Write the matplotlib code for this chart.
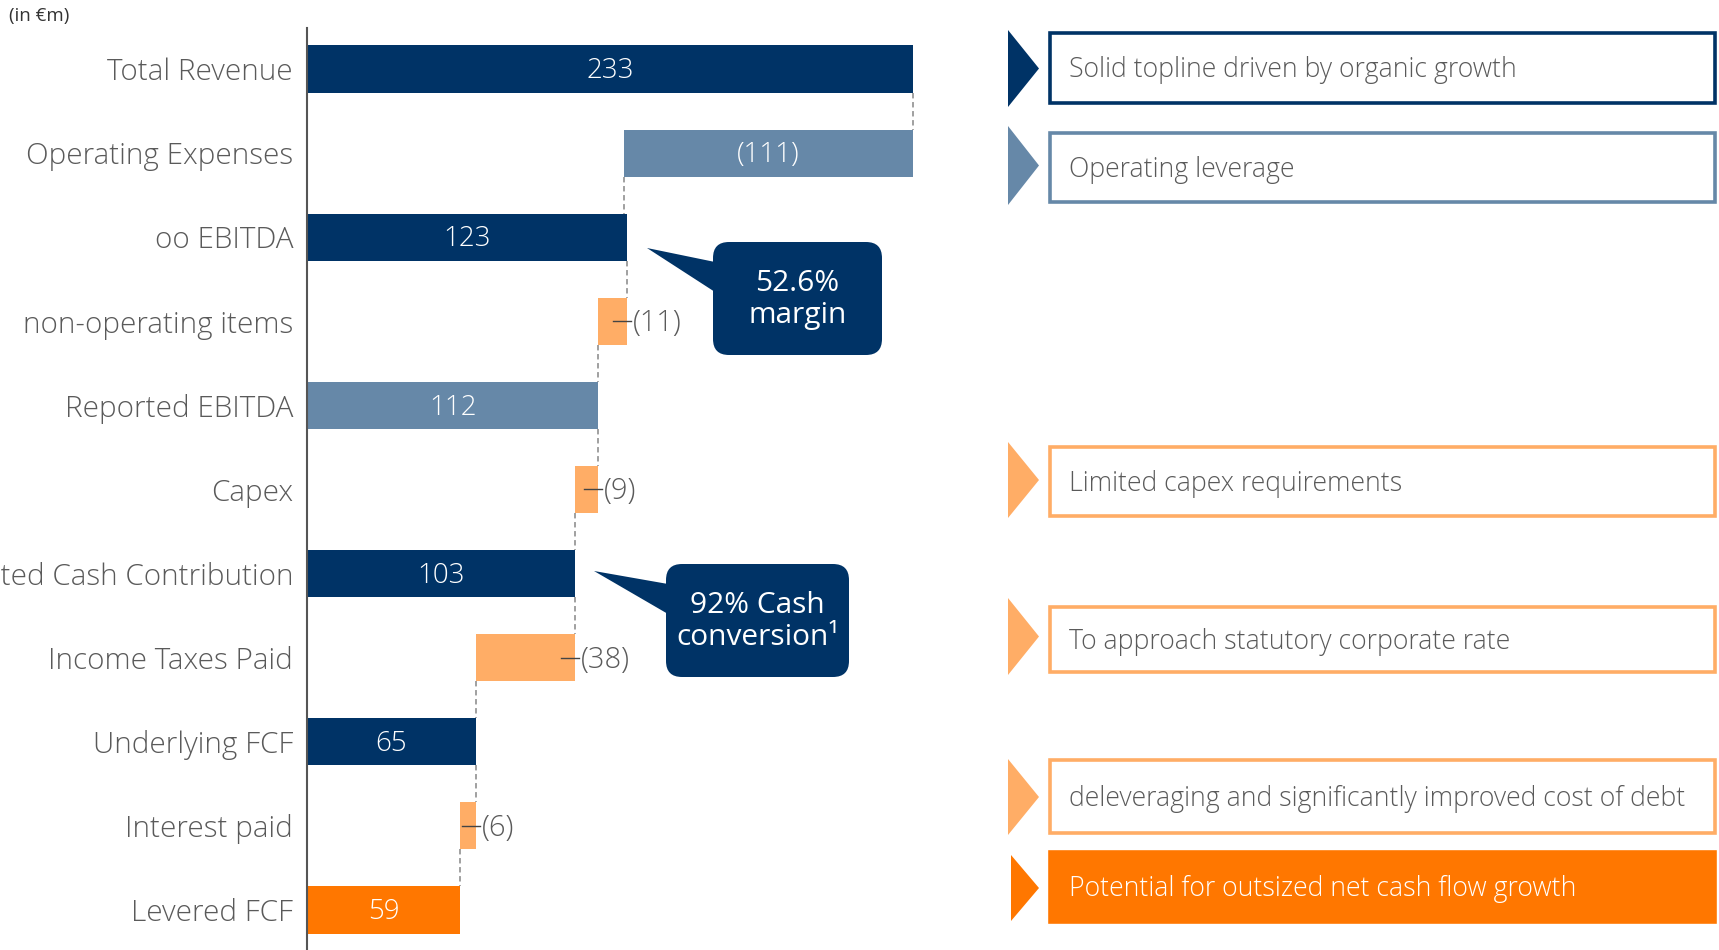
import numpy as np
import matplotlib.pyplot as plt
from matplotlib.patches import FancyBboxPatch, Polygon, Rectangle

plt.rcParams['font.family'] = ['Open Sans', 'DejaVu Sans']

# datos de la cascada
categories = ["Total Revenue", "Operating Expenses", "oo EBITDA", "non-operating items",
              "Reported EBITDA", "Capex", "Reported Cash Contribution", "Income Taxes Paid",
              "Underlying FCF", "Interest paid", "Levered FCF"]
values = [233, -111, 123, -11, 112, -9, 103, -38, 65, -6, 59]
is_total = [True, False, True, False, True, False, True, False, True, False, True]
labels = ["233", "(111)", "123", "(11)", "112", "(9)", "103", "(38)", "65", "(6)", "59"]

callout_texts = ["52.6%\nmargin", "92% Cash\nconversion\u00b9"]
notes = ["Solid topline driven by organic growth", "Operating leverage",
         "Limited capex requirements", "To approach statutory corporate rate",
         "deleveraging and significantly improved cost of debt",
         "Potential for outsized net cash flow growth"]

NAVY = "#003366"
STEEL = "#6688A8"
LORANGE = "#FFAD66"
ORANGE = "#FF7700"
GRAY_TXT = "#5a5a5a"

bar_colors = [NAVY, STEEL, NAVY, LORANGE, STEEL, LORANGE, NAVY, LORANGE, NAVY, LORANGE, ORANGE]

W, H = 1719, 950
fig = plt.figure(figsize=(W / 100, H / 100), dpi=100)

# eje de barras
px_per_unit = 606 / 233
ax_left, ax_right, ax_top = 307, 960, 28
ax = fig.add_axes([ax_left / W, 0, (ax_right - ax_left) / W, (H - ax_top) / H])
ax.set_xlim(0, (ax_right - ax_left) / px_per_unit)
row0, row_step = 69, 84.1
ax.set_ylim((H - row0) / row_step, (ax_top - row0) / row_step)

bh = 0.56
running = 0
spans = []
for i, (v, tot) in enumerate(zip(values, is_total)):
    if tot:
        left, width = 0, v
        running = v
    else:
        left, width = running + v, -v
        running = running + v
    spans.append((left, left + width))
    ax.barh(i, width, left=left, height=bh, color=bar_colors[i], edgecolor="none", zorder=2)

# conectores punteados
for i in range(len(values) - 1):
    if is_total[i + 1]:
        x = spans[i][0]
    elif is_total[i]:
        x = spans[i][1]
    else:
        x = spans[i][0]
    ax.plot([x, x], [i + bh / 2, i + 1 - bh / 2], color="#999999", ls=(0, (3, 2)), lw=1.3, zorder=1)

# etiquetas de valores
u = 1 / px_per_unit
dy = 0.025
for i, (lo, hi) in enumerate(spans):
    if is_total[i] or (hi - lo) > 40:
        ax.text((lo + hi) / 2, i + dy, labels[i], color="white", ha="center", va="center",
                fontsize=20, fontweight="light", zorder=3)
    else:
        ax.plot([hi - 14 * u, hi + 4 * u], [i, i], color="#444444", lw=1, zorder=3)
        ax.text(hi + 6 * u, i + dy, labels[i], color=GRAY_TXT, ha="left", va="center",
                fontsize=21, fontweight="light", zorder=3)

ax.set_yticks(range(len(categories)))
ax.set_yticklabels(categories, fontsize=21.3, fontweight="light", color=GRAY_TXT)
ax.tick_params(axis="y", length=0, pad=10)
ax.set_xticks([])
for s in ["top", "right", "bottom"]:
    ax.spines[s].set_visible(False)
ax.spines["left"].set_color("#555555")
ax.spines["left"].set_linewidth(1.5)
ax.patch.set_alpha(0)

# capa de anotaciones en pixeles
ov = fig.add_axes([0, 0, 1, 1], zorder=5)
ov.set_xlim(0, W)
ov.set_ylim(H, 0)
ov.axis("off")
ov.patch.set_alpha(0)

ov.text(9, 16, "(in \u20acm)", fontsize=13.5, color="#333333", va="center", ha="left")

# globos
callouts = [
    dict(box=(713, 242, 882, 355), tip=(647, 248), base=(262, 292)),
    dict(box=(666, 564, 849, 677), tip=(594, 571), base=(584, 614)),
]
for c, txt in zip(callouts, callout_texts):
    x0, y0, x1, y1 = c["box"]
    ov.add_patch(FancyBboxPatch((x0, y0), x1 - x0, y1 - y0,
                                boxstyle="round,pad=0,rounding_size=16",
                                fc=NAVY, ec="none", zorder=3))
    ov.add_patch(Polygon([c["tip"], (x0 + 2, c["base"][0]), (x0 + 2, c["base"][1])],
                         closed=True, fc=NAVY, ec="none", zorder=3))
    ov.text((x0 + x1) / 2, (y0 + y1) / 2 + 1, txt, color="white", ha="center", va="center",
            fontsize=21.5, linespacing=1.18, zorder=4)

# recuadros de la derecha
note_rows = [(33, 103), (133, 202), (447, 516), (607, 672), (760, 833), (852, 922)]
note_colors = [NAVY, STEEL, LORANGE, LORANGE, LORANGE, ORANGE]
tri_rows = [(30, 107), (126, 205), (442, 518), (598, 675), (759, 835), (855, 921)]
for k, (txt, (y0, y1), col, (t0, t1)) in enumerate(zip(notes, note_rows, note_colors, tri_rows)):
    filled = k == len(notes) - 1
    tx0 = 1011 if filled else 1008
    ov.add_patch(Polygon([(tx0, t0), (1039, (t0 + t1) / 2), (tx0, t1)], closed=True,
                         fc=col, ec="none"))
    ov.add_patch(Rectangle((1050, y0), 1715 - 1050, y1 - y0,
                           fc=col if filled else "white", ec=col, lw=2.6))
    ov.text(1069, (y0 + y1) / 2 + 2, txt, color="white" if filled else GRAY_TXT,
            ha="left", va="center", fontsize=19.2, fontweight="light")

fig.savefig("out.png", dpi=100)
